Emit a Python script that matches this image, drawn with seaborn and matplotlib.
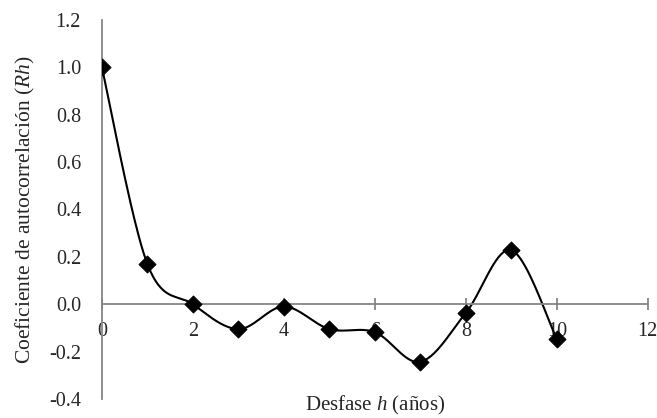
import numpy as np
import pandas as pd
import seaborn as sns
import matplotlib.pyplot as plt

# data
lags = [0, 1, 2, 3, 4, 5, 6, 7, 8, 9, 10]
rh = [1.00, 0.17, 0.00, -0.105, -0.01, -0.105, -0.118, -0.243, -0.037, 0.228, -0.148]
x_ticks = [0, 2, 4, 6, 8, 10, 12]
y_ticks = [-0.4, -0.2, 0.0, 0.2, 0.4, 0.6, 0.8, 1.0, 1.2]

sns.set_style('white')
plt.rcParams['font.family'] = ['Liberation Serif', 'DejaVu Serif']
plt.rcParams['mathtext.fontset'] = 'custom'
plt.rcParams['mathtext.rm'] = 'Liberation Serif'
plt.rcParams['mathtext.it'] = 'Liberation Serif:italic'


def smooth_curve(xs, ys, n=40):
    # Excel-like smoothed line (Catmull-Rom / cubic Bezier segments)
    pts = np.column_stack([xs, ys]).astype(float)
    out = []
    for i in range(len(pts) - 1):
        p0 = pts[max(i - 1, 0)]
        p1 = pts[i]
        p2 = pts[i + 1]
        p3 = pts[min(i + 2, len(pts) - 1)]
        c1 = p1 + (p2 - p0) / 6
        c2 = p2 - (p3 - p1) / 6
        t = np.linspace(0, 1, n)[:, None]
        seg = (1 - t) ** 3 * p1 + 3 * (1 - t) ** 2 * t * c1 + 3 * (1 - t) * t ** 2 * c2 + t ** 3 * p2
        out.append(seg if i == 0 else seg[1:])
    return np.vstack(out)


df = pd.DataFrame({'h': lags, 'rh': rh})
curve = smooth_curve(df['h'], df['rh'])
df_curve = pd.DataFrame({'h': curve[:, 0], 'rh': curve[:, 1], 'seg': np.arange(len(curve))})

fig = plt.figure(figsize=(6.57, 4.18), dpi=100)
ax = fig.add_axes([0.155, 0.0455, 0.831, 0.907])

sns.lineplot(data=df_curve, x='h', y='rh', sort=False, color='black', linewidth=1.5, ax=ax)
sns.scatterplot(data=df, x='h', y='rh', marker='D', s=75, color='black', edgecolor='black', zorder=3, ax=ax)

ax.set_xlim(0, 12)
ax.set_ylim(-0.4, 1.2)
ax.set_xticks(x_ticks)
ax.set_yticks(y_ticks)
ax.set_yticklabels([f'{v:.1f}' for v in y_ticks])

for s in ['top', 'right']:
    ax.spines[s].set_visible(False)
ax.spines['bottom'].set_position(('data', 0))
for s in ['left', 'bottom']:
    ax.spines[s].set_color('#868686')
    ax.spines[s].set_linewidth(1.3)

ax.tick_params(axis='x', direction='inout', length=9, width=1.3, color='#868686',
               labelsize=14.5, pad=8, bottom=True)
ax.tick_params(axis='y', length=0, labelsize=14.5, pad=15, left=False)

ax.set_xlabel('Desfase $h$ (años)', fontsize=15)
ax.xaxis.set_label_coords(0.5, -0.016)
ax.xaxis.label.set_va('center')
ax.set_ylabel('Coeficiente de autocorrelación ($Rh$)', fontsize=15.5)
ax.yaxis.set_label_coords(-0.14, 0.5)
ax.yaxis.label.set_va('center')

fig.savefig('out.png', dpi=100)
